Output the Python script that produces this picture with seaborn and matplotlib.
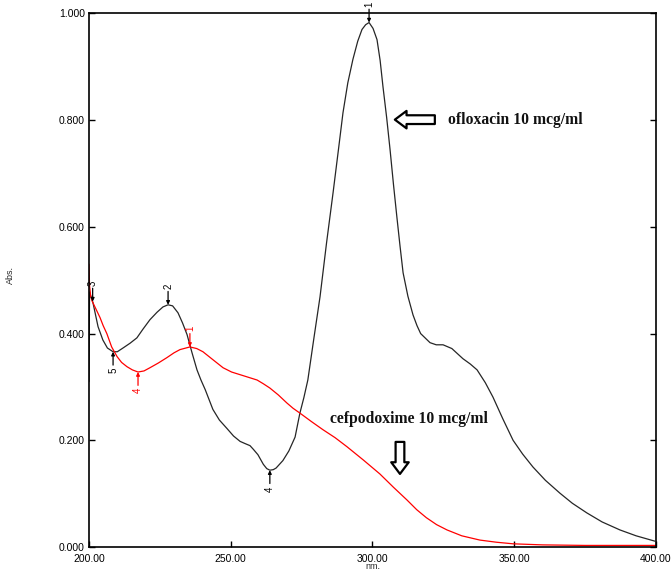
import pandas as pd
import matplotlib
matplotlib.use("Agg")
import matplotlib.pyplot as plt
import seaborn as sns

# ofloxacin 10 mcg/ml (black trace)
oflox_nm = [200.0, 200.2, 201.4, 203.2, 204.9, 206.5, 208.5, 210.0, 212.0, 214.5,
            216.9, 219.0, 221.5, 224.0, 226.1, 227.9, 229.5, 231.4, 233.0, 234.6,
            236.3, 238.1, 239.5, 241.0, 243.7, 246.0, 248.7, 251.0, 253.3, 255.0,
            256.8, 258.0, 259.6, 261.5, 262.7, 263.8, 265.0, 266.0, 268.4, 270.5,
            272.7, 274.4, 275.8, 277.2, 279.3, 281.5, 283.8, 286.1, 288.0, 289.6,
            291.3, 293.1, 294.8, 296.3, 297.6, 298.8, 300.2, 301.6, 302.7, 303.7,
            305.0, 306.2, 307.4, 308.6, 309.7, 310.8, 312.5, 314.3, 315.7, 317.0,
            320.3, 322.5, 324.9, 328.0, 331.9, 334.5, 336.9, 339.8, 342.5, 346.0,
            349.6, 353.0, 356.6, 361.0, 366.1, 370.5, 375.6, 381.0, 387.3, 393.0,
            399.6]
oflox_abs = [0.310, 0.478, 0.458, 0.413, 0.388, 0.373, 0.366, 0.366, 0.373, 0.382,
             0.392, 0.408, 0.426, 0.440, 0.450, 0.454, 0.452, 0.439, 0.420, 0.398,
             0.365, 0.332, 0.313, 0.295, 0.258, 0.238, 0.222, 0.208, 0.198, 0.194,
             0.190, 0.183, 0.173, 0.155, 0.147, 0.144, 0.145, 0.148, 0.162, 0.180,
             0.206, 0.251, 0.280, 0.313, 0.390, 0.469, 0.570, 0.664, 0.745, 0.814,
             0.870, 0.914, 0.948, 0.970, 0.979, 0.983, 0.972, 0.951, 0.912, 0.863,
             0.805, 0.745, 0.680, 0.619, 0.565, 0.514, 0.470, 0.435, 0.415, 0.400,
             0.383, 0.379, 0.379, 0.372, 0.353, 0.343, 0.332, 0.308, 0.281, 0.240,
             0.200, 0.174, 0.150, 0.125, 0.101, 0.082, 0.064, 0.047, 0.032, 0.021,
             0.011]

# cefpodoxime 10 mcg/ml (red trace)
cefpo_nm = [200.0, 200.2, 200.6, 201.2, 202.1, 203.9, 205.0, 206.3, 208.0, 209.9,
            211.5, 213.4, 215.3, 217.3, 219.4, 221.5, 224.5, 227.5, 230.0, 232.1,
            235.6, 238.0, 240.2, 243.5, 247.3, 250.3, 253.3, 256.3, 259.3, 261.5,
            263.8, 266.8, 269.8, 272.0, 274.4, 278.5, 282.5, 286.8, 291.0, 296.8,
            302.6, 307.4, 312.2, 315.6, 319.0, 322.6, 326.3, 331.5, 337.9, 343.7,
            349.6, 360.0, 375.0, 390.0, 400.0]
cefpo_abs = [0.530, 0.490, 0.470, 0.460, 0.450, 0.430, 0.415, 0.400, 0.375, 0.357,
             0.346, 0.338, 0.332, 0.328, 0.330, 0.336, 0.345, 0.355, 0.364, 0.370,
             0.375, 0.372, 0.366, 0.352, 0.336, 0.328, 0.323, 0.318, 0.313, 0.306,
             0.298, 0.285, 0.270, 0.260, 0.251, 0.235, 0.220, 0.205, 0.188, 0.163,
             0.137, 0.112, 0.088, 0.070, 0.055, 0.042, 0.032, 0.021, 0.013, 0.009,
             0.006, 0.004, 0.003, 0.003, 0.003]

# peak / valley picks: wavelength, absorbance, label, kind
oflox_picks = [(201.3, 0.46, "3", "max"), (208.5, 0.366, "5", "min"),
               (227.9, 0.454, "2", "max"), (263.8, 0.144, "4", "min"),
               (298.8, 0.983, "1", "max")]
cefpo_picks = [(217.3, 0.328, "4", "min"), (235.6, 0.375, "1", "max")]

xticks = [200, 250, 300, 350, 400]
yticks = [0.0, 0.2, 0.4, 0.6, 0.8, 1.0]

sns.set_style("white")
plt.rcParams['font.family'] = ['Liberation Sans', 'DejaVu Sans']

df = pd.concat([
    pd.DataFrame({"nm": oflox_nm, "Abs": oflox_abs, "sample": "ofloxacin"}),
    pd.DataFrame({"nm": cefpo_nm, "Abs": cefpo_abs, "sample": "cefpodoxime"}),
])

fig = plt.figure(figsize=(6.71, 5.71), dpi=100)
ax = fig.add_axes([0.1326, 0.042, 0.845, 0.9344])

sns.lineplot(data=df, x="nm", y="Abs", hue="sample", sort=False,
             palette={"ofloxacin": "#262626", "cefpodoxime": "#ff0000"},
             linewidth=0.9, legend=False, ax=ax, estimator=None)

ax.set_xlim(200, 400)
ax.set_ylim(0, 1.0)
ax.set_xticks(xticks)
ax.set_xticklabels([f"{t:.2f}" for t in xticks], fontsize=7.5, color="#222222")
ax.set_yticks(yticks)
ax.set_yticklabels([f"{t:.3f}" for t in yticks], fontsize=7.5, color="#222222")
ax.tick_params(direction="in", length=4, width=1, right=True, left=True, bottom=True,
               pad=3, colors="black")
ax.tick_params(axis="x", pad=5)
for s in ax.spines.values():
    s.set_color("black")
    s.set_linewidth(1.2)

ax.set_xlabel("nm.", fontsize=6.5, va="top")
ax.xaxis.set_label_coords(0.5, -0.029)
ax.set_ylabel("Abs.", fontsize=6.5)
ax.yaxis.set_label_coords(-0.13, 0.51)


def mark(x, y, lab, kind, col):
    if kind == "max":
        ax.annotate("", xy=(x, y), xytext=(x, y + 0.025),
                    arrowprops=dict(arrowstyle="-|>", color=col, lw=0.9,
                                    mutation_scale=5, shrinkA=0, shrinkB=0))
        ax.text(x, y + 0.03, lab, rotation=90, color=col, fontsize=7,
                ha="center", va="bottom")
    else:
        ax.annotate("", xy=(x, y), xytext=(x, y - 0.025),
                    arrowprops=dict(arrowstyle="-|>", color=col, lw=0.9,
                                    mutation_scale=5, shrinkA=0, shrinkB=0))
        ax.text(x, y - 0.03, lab, rotation=90, color=col, fontsize=7,
                ha="center", va="top")


for x, y, lab, kind in oflox_picks:
    mark(x, y, lab, kind, "black")
for x, y, lab, kind in cefpo_picks:
    mark(x, y, lab, kind, "#ff0000")

# hollow arrows and sample names
ax.annotate("", xy=(307.9, 0.801), xytext=(322.0, 0.801),
            arrowprops=dict(arrowstyle="simple,head_length=0.6,head_width=0.9,tail_width=0.45",
                            fc="white", ec="black", lw=1.6, shrinkA=0, shrinkB=0,
                            mutation_scale=14))
ax.text(326.5, 0.801, "ofloxacin 10 mcg/ml", family="Liberation Serif",
        fontweight="bold", fontsize=11.3, va="center", ha="left", color="#111111")

ax.annotate("", xy=(309.7, 0.137), xytext=(309.7, 0.197),
            arrowprops=dict(arrowstyle="simple,head_length=0.6,head_width=0.9,tail_width=0.45",
                            fc="white", ec="black", lw=1.6, shrinkA=0, shrinkB=0,
                            mutation_scale=14))
ax.text(285.0, 0.240, "cefpodoxime 10 mcg/ml", family="Liberation Serif",
        fontweight="bold", fontsize=11.3, va="center", ha="left", color="#111111")

fig.savefig("out.png", dpi=100)
